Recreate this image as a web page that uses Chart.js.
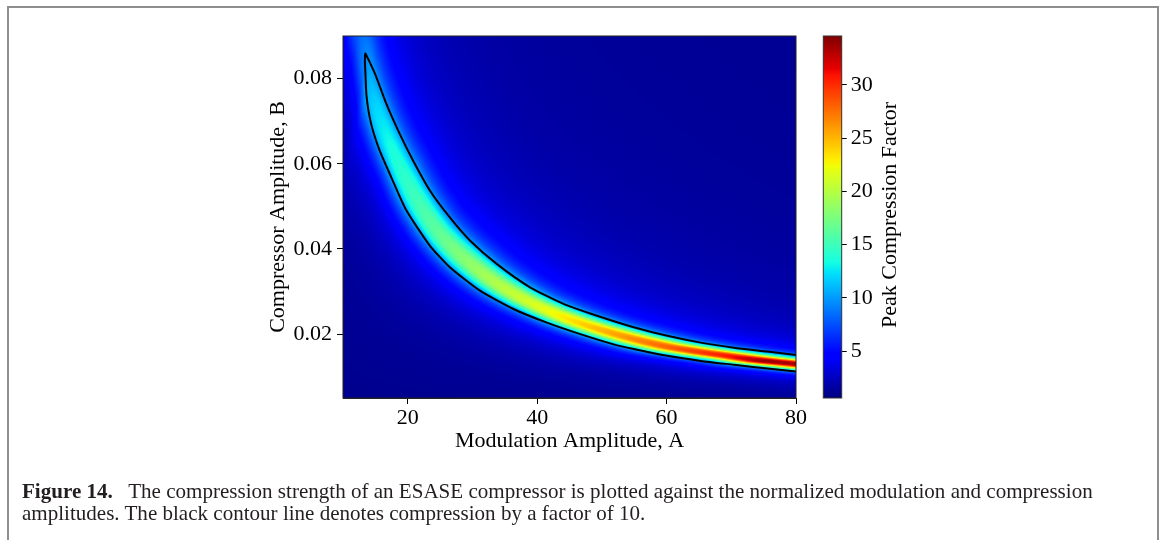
<!DOCTYPE html>
<html><head><meta charset="utf-8">
<script src="https://cdn.jsdelivr.net/npm/chart.js@4.4.1/dist/chart.umd.min.js"></script>
<style>
body{margin:0;background:#fff;width:1165px;height:540px;position:relative;overflow:hidden;font-family:"Liberation Serif",serif;}
#frame{position:absolute;left:7px;top:6px;width:1152px;height:560px;border:2px solid #8e8e8e;border-bottom:none;box-sizing:border-box;}
#main{position:absolute;left:0;top:0;}
#cbar{position:absolute;left:780px;top:0;}
#cblabel{position:absolute;left:739px;top:202px;width:300px;height:26px;line-height:26px;font-size:22px;text-align:center;transform:rotate(-90deg);color:#000;white-space:nowrap;}
.cap{position:absolute;left:22px;font-size:18px;line-height:22px;color:#231f20;white-space:nowrap;}
#cap1{top:480px;}
#cap2{top:502px;}
</style></head>
<body>
<div id="frame"></div>
<canvas id="main" width="820" height="540"></canvas>
<canvas id="cbar" width="240" height="540"></canvas>
<div id="cblabel">Peak Compression Factor</div>
<div class="cap" id="cap1"><b>Figure 14.</b>&nbsp;&nbsp; The compression strength of an ESASE compressor is plotted against the normalized modulation and compression</div>
<div class="cap" id="cap2">amplitudes. The black contour line denotes compression by a factor of 10.</div>
<script>
// ---- axis ranges & ticks ----
const xMin = 10, xMax = 80;
const yMin = 0.005, yMax = 0.09;
const xTicks = [20, 40, 60, 80];
const yTicks = [0.02, 0.04, 0.06, 0.08];
const cMin = 0.6, cMax = 34.6;
const cTicks = [5, 10, 15, 20, 25, 30];
const xTitle = 'Modulation Amplitude, A';
const yTitle = 'Compressor Amplitude, B';

// ---- compression ridge ----
const ridgeA     = [12.6, 13.6, 14.0, 15.0, 17.5, 20.0, 25.0, 30.0, 40.0, 50.0, 60.0, 70.0, 75.0, 80.0];
const ridgeB     = [0.092, 0.084, 0.0782, 0.0732, 0.0636, 0.0555, 0.0435, 0.0362, 0.0267, 0.0210, 0.0171, 0.0148, 0.01375, 0.0130];
const ridgePeak  = [8.0, 9.5, 11.0, 12.0, 13.5, 14.5, 16.5, 18.5, 21.5, 25.0, 28.0, 31.0, 34.0, 33.5];
const ridgeWidth = [0.16, 0.16, 0.169, 0.155, 0.1425, 0.150, 0.1276, 0.1204, 0.0969, 0.0921, 0.0929, 0.0869, 0.0888, 0.092];
const haloLevel  = [4.5, 4.5, 4.5, 4.2, 3.8, 3.5, 3.5, 3.5, 3.5, 3.3, 3.1, 3.0, 3.0, 3.0];
const haloWidthUp = 0.45, haloWidthLo = 0.34;
const profilePower = 2.7;
const background = 1.0;

// ---- contour (factor 10) ----
const upperA = [13.44, 13.75, 14.06, 15.09, 16.64, 18.71, 20.78, 23.4, 26.51, 29.61, 33.75, 38.91, 44.08, 49.26, 54.93, 60.11, 65.27, 70.43, 75.6, 80];
const upperB = [0.0859, 0.0850, 0.0841, 0.0806, 0.0743, 0.0672, 0.0609, 0.0538, 0.0474, 0.0420, 0.0365, 0.0310, 0.0271, 0.0243, 0.0216, 0.0196, 0.0180, 0.0168, 0.0159, 0.0151];
const lowerA = [13.44, 13.38, 13.44, 13.64, 14.31, 15.61, 17.41, 19.74, 23.41, 26.51, 31.16, 36.33, 41.5, 46.67, 51.83, 54.93, 60.11, 65.27, 70.43, 75.6, 80];
const lowerB = [0.0859, 0.0840, 0.0821, 0.0758, 0.0696, 0.0633, 0.0570, 0.0492, 0.0408, 0.0357, 0.0302, 0.0259, 0.0227, 0.0200, 0.0176, 0.0165, 0.0149, 0.0137, 0.0128, 0.0119, 0.0112];

// ---- caption fit (line 1 spans the caption width) ----
(function(){
  const c1 = document.getElementById('cap1'), c2 = document.getElementById('cap2');
  const w = c1.getBoundingClientRect().width;
  const fs = 18 * 1071 / w;
  c1.style.fontSize = fs + 'px'; c2.style.fontSize = fs + 'px';
})();

// ---- helpers ----
function lerpTable(xs, ys, x){
  if (x <= xs[0]) return ys[0];
  const n = xs.length;
  if (x >= xs[n-1]) return ys[n-1];
  for (let i = 1; i < n; i++){
    if (x <= xs[i]){ const f = (x - xs[i-1])/(xs[i]-xs[i-1]); return ys[i-1] + f*(ys[i]-ys[i-1]); }
  }
  return ys[n-1];
}
const JR = [[0,0],[0.35,0],[0.66,1],[0.89,1],[1,0.5]];
const JG = [[0,0],[0.125,0],[0.375,1],[0.64,1],[0.91,0],[1,0]];
const JB = [[0,0.5],[0.11,1],[0.34,1],[0.65,0],[1,0]];
function seg(tab, v){ return lerpTable(tab.map(p=>p[0]), tab.map(p=>p[1]), v); }
function jet(val){
  let v = (val - cMin)/(cMax - cMin); v = Math.max(0, Math.min(1, v));
  return [Math.round(255*seg(JR,v)), Math.round(255*seg(JG,v)), Math.round(255*seg(JB,v))];
}
const ridgeT = ridgeA.map((a,i)=>Math.log(a) - Math.log(ridgeB[i]));
const ridgeS = ridgeA.map((a,i)=>Math.log(a) + Math.log(ridgeB[i]));
function fieldValue(A, B){
  const t = Math.log(A) - Math.log(B), s = Math.log(A) + Math.log(B);
  const sc = lerpTable(ridgeT, ridgeS, t);
  const pk = lerpTable(ridgeT, ridgePeak, t);
  const w  = lerpTable(ridgeT, ridgeWidth, t);
  const h  = lerpTable(ridgeT, haloLevel, t);
  const delta = s - sc;
  const d = Math.abs(delta / w);
  const hw = delta > 0 ? haloWidthUp : haloWidthLo;
  const e = delta / hw;
  return background + (pk - background - h)/(1 + Math.pow(d, profilePower)) + h/(1 + e*e);
}

const heatmapPlugin = {
  id:'heatmap',
  beforeDatasetsDraw(chart){
    const {ctx, chartArea:ca, scales:{x, y}} = chart;
    const L = Math.round(ca.left), T = Math.round(ca.top);
    const W = Math.round(ca.right) - L, H = Math.round(ca.bottom) - T;
    const off = document.createElement('canvas'); off.width = W; off.height = H;
    const octx = off.getContext('2d');
    const img = octx.createImageData(W, H);
    for (let j = 0; j < H; j++){
      const B = y.getValueForPixel(T + j + 0.5);
      for (let i = 0; i < W; i++){
        const A = x.getValueForPixel(L + i + 0.5);
        const c = jet(fieldValue(A, B));
        const k = 4*(j*W + i);
        img.data[k] = c[0]; img.data[k+1] = c[1]; img.data[k+2] = c[2]; img.data[k+3] = 255;
      }
    }
    octx.putImageData(img, 0, 0);
    ctx.drawImage(off, L, T);
  },
  afterDraw(chart){
    const {ctx, chartArea:ca} = chart;
    ctx.save(); ctx.strokeStyle = '#222'; ctx.lineWidth = 1;
    ctx.strokeRect(ca.left, ca.top, ca.right - ca.left, ca.bottom - ca.top);
    ctx.restore();
  }
};

const contourPts = [];
for (let i = upperA.length - 1; i >= 0; i--) contourPts.push({x: upperA[i], y: upperB[i]});
for (let i = 1; i < lowerA.length; i++) contourPts.push({x: lowerA[i], y: lowerB[i]});

const serif = 'Liberation Serif';
const tickFont = {family: serif, size: 22};

new Chart(document.getElementById('main'), {
  type: 'scatter',
  data: {datasets: [{data: contourPts, showLine: true, borderColor: '#000', borderWidth: 2, pointRadius: 0, tension: 0.2, fill: false}]},
  options: {
    responsive: false, animation: false, devicePixelRatio: 1,
    layout: {padding: {left: 253, top: 36, right: 24, bottom: 72}},
    plugins: {legend: {display: false}, tooltip: {enabled: false}},
    scales: {
      x: {
        type: 'linear', min: xMin, max: xMax,
        afterFit: s => { s.height = 70; },
        afterBuildTicks: s => { s.ticks = xTicks.map(v => ({value: v})); },
        ticks: {font: tickFont, color: '#000', padding: 1, maxRotation: 0, callback: v => String(v)},
        grid: {display: true, drawOnChartArea: false, drawTicks: true, tickLength: 6, color: '#000'},
        border: {display: true, color: '#222', width: 1},
        title: {display: true, text: xTitle, font: {family: serif, size: 22}, color: '#000', padding: {top: 0, bottom: 14}}
      },
      y: {
        type: 'linear', min: yMin, max: yMax,
        afterFit: s => { s.width = 90; },
        afterBuildTicks: s => { s.ticks = yTicks.map(v => ({value: v})); },
        ticks: {font: tickFont, color: '#000', padding: 5, callback: v => v.toFixed(2)},
        grid: {display: true, drawOnChartArea: false, drawTicks: true, tickLength: 6, color: '#000'},
        border: {display: true, color: '#222', width: 1},
        title: {display: true, text: yTitle, font: {family: serif, size: 22}, color: '#000', padding: {top: 12, bottom: 0}}
      }
    }
  },
  plugins: [heatmapPlugin]
});

const cbarPlugin = {
  id: 'cbar',
  beforeDatasetsDraw(chart){
    const {ctx, chartArea: ca, scales: {y}} = chart;
    const T = Math.round(ca.top), B = Math.round(ca.bottom);
    for (let py = T; py < B; py++){
      const c = jet(y.getValueForPixel(py + 0.5));
      ctx.fillStyle = `rgb(${c[0]},${c[1]},${c[2]})`;
      ctx.fillRect(ca.left, py, ca.right - ca.left, 1);
    }
  },
  afterDraw(chart){
    const {ctx, chartArea: ca} = chart;
    ctx.save(); ctx.strokeStyle = '#333'; ctx.lineWidth = 1;
    ctx.strokeRect(ca.left, ca.top, ca.right - ca.left, ca.bottom - ca.top);
    ctx.restore();
  }
};

new Chart(document.getElementById('cbar'), {
  type: 'scatter',
  data: {datasets: []},
  options: {
    responsive: false, animation: false, devicePixelRatio: 1,
    layout: {padding: {left: 43.3, top: 36, right: 118.3, bottom: 142}},
    plugins: {legend: {display: false}, tooltip: {enabled: false}},
    scales: {
      x: {display: false, min: 0, max: 1},
      y: {
        type: 'linear', position: 'right', min: cMin, max: cMax,
        afterFit: s => { s.width = 60; },
        afterBuildTicks: s => { s.ticks = cTicks.map(v => ({value: v})); },
        ticks: {font: tickFont, color: '#000', padding: 4, callback: v => String(v)},
        grid: {display: true, drawOnChartArea: false, drawTicks: true, tickLength: 5, color: '#000'},
        border: {display: false}
      }
    }
  },
  plugins: [cbarPlugin]
});
</script>
</body></html>
